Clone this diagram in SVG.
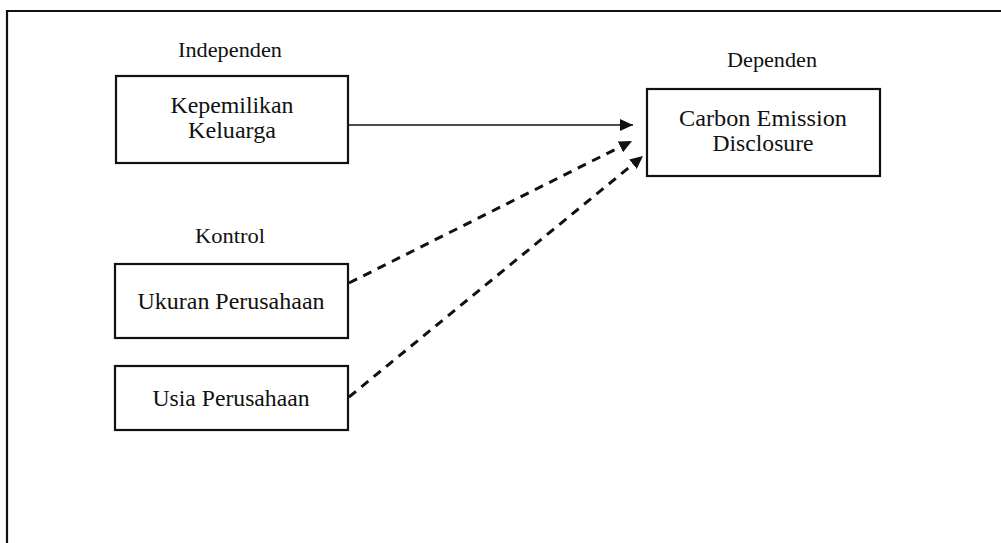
<svg xmlns="http://www.w3.org/2000/svg" width="1001" height="543" viewBox="0 0 1001 543">
<style>
.box{fill:#fff;stroke:#111;stroke-width:2.2}
.lbl{font-family:"Liberation Serif","Times New Roman",serif;font-size:20px;fill:#111;text-anchor:middle}
.txt{font-family:"Liberation Serif","Times New Roman",serif;font-size:22.5px;fill:#111;text-anchor:middle}
.solid{stroke:#111;stroke-width:1.3;fill:none}
.dash{stroke:#111;stroke-width:3;fill:none;stroke-dasharray:9 7}
</style>
<defs>
<marker id="ah" markerUnits="userSpaceOnUse" markerWidth="14" markerHeight="12" refX="13" refY="6" orient="auto">
<path d="M0,0 L13,6 L0,12 Z" fill="#111"/>
</marker>
</defs>
<rect width="1001" height="543" fill="#fff"/>
<path d="M7,545 L7,11 L1003,11" fill="none" stroke="#111" stroke-width="2.2"/>
<text class="lbl" x="230" y="57" textLength="104" lengthAdjust="spacingAndGlyphs">Independen</text>
<text class="lbl" x="772" y="67" textLength="90" lengthAdjust="spacingAndGlyphs">Dependen</text>
<text class="lbl" x="230" y="243" textLength="70" lengthAdjust="spacingAndGlyphs">Kontrol</text>
<g id="kepemilikan">
<rect class="box" x="116" y="76" width="232" height="87"/>
<text class="txt" x="232" y="113" textLength="123" lengthAdjust="spacingAndGlyphs">Kepemilikan</text>
<text class="txt" x="232" y="138" textLength="88" lengthAdjust="spacingAndGlyphs">Keluarga</text>
</g>
<g id="ced">
<rect class="box" x="647" y="89" width="233" height="87"/>
<text class="txt" x="763" y="126" textLength="168" lengthAdjust="spacingAndGlyphs">Carbon Emission</text>
<text class="txt" x="763" y="151" textLength="101" lengthAdjust="spacingAndGlyphs">Disclosure</text>
</g>
<g id="ukuran">
<rect class="box" x="115" y="264" width="233" height="74"/>
<text class="txt" x="231" y="309" textLength="187" lengthAdjust="spacingAndGlyphs">Ukuran Perusahaan</text>
</g>
<g id="usia">
<rect class="box" x="115" y="366" width="233" height="64"/>
<text class="txt" x="231" y="406" textLength="157" lengthAdjust="spacingAndGlyphs">Usia Perusahaan</text>
</g>
<g id="connectors">
<line class="solid" x1="348" y1="125" x2="633" y2="125" marker-end="url(#ah)"/>
<line class="dash" x1="349" y1="283" x2="632" y2="141" marker-end="url(#ah)"/>
<line class="dash" x1="349" y1="397" x2="643" y2="156" marker-end="url(#ah)"/>
</g>
</svg>
